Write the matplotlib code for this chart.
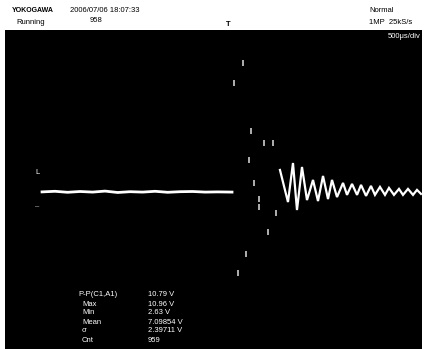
import numpy as np
import matplotlib
matplotlib.use('Agg')
import matplotlib.pyplot as plt

plt.rcParams['font.family'] = ['Liberation Sans', 'DejaVu Sans']

# CH1 trace before the trigger (time in us, volts)
pre_t = [-2056, -1900, -1750, -1600, -1450, -1300, -1150, -1000, -850, -700,
         -550, -400, -250, -100, 50, 222]
pre_v = [7.13, 7.16, 7.11, 7.15, 7.12, 7.17, 7.10, 7.14, 7.12, 7.16,
         7.11, 7.14, 7.15, 7.12, 7.13, 7.12]

# ringing after the event
ring_t = [797, 893, 953, 1001, 1061, 1121, 1193, 1253, 1313, 1373, 1421, 1481,
          1553, 1601, 1661, 1721, 1769, 1829, 1888, 1936, 1996, 2056, 2104,
          2164, 2224, 2272, 2332, 2392, 2440, 2488]
ring_v = [8.23, 6.62, 8.58, 6.22, 8.38, 6.72, 7.73, 6.67, 7.93, 6.77, 7.73, 6.87,
          7.58, 6.98, 7.53, 6.98, 7.48, 6.93, 7.43, 6.98, 7.38, 6.98, 7.33,
          6.98, 7.28, 6.98, 7.28, 6.98, 7.23, 7.03]

# scattered samples of the fast transient
dot_t = [242, 350, 446, 606, 710, 430, 486, 550, 542, 750, 654, 390, 294]
dot_v = [12.61, 13.60, 10.20, 9.60, 9.60, 8.73, 7.56, 6.76, 6.36, 6.06, 5.14, 4.02, 3.05]

meas_names = ['P-P(C1,A1)', 'Max', 'Min', 'Mean', 'σ', 'Cnt']
meas_vals = ['10.79 V', '10.96 V', '2.63 V', '7.09854 V', '2.39711 V', '959']

W, H = 425, 349
fig = plt.figure(figsize=(W / 100, H / 100), dpi=100, facecolor='white')

ax = fig.add_axes([5 / W, 0, 417 / W, 319 / H])
ax.set_facecolor('black')
ax.set_xlim(-2500, 2500)
ax.set_ylim(-0.75, 15.25)
ax.set_xticks([])
ax.set_yticks([])
for s in ax.spines.values():
    s.set_visible(False)

ax.plot(pre_t, pre_v, color='white', lw=2.0, solid_joinstyle='round')
ax.plot(ring_t, ring_v, color='white', lw=1.6, solid_joinstyle='miter')
ax.plot(dot_t, dot_v, ls='none', marker='|', ms=4, mew=1.1, color='#e0e0e0')

# header
def ftext(x, y, s, size=5.5, **kw):
    fig.text(x / W, 1 - y / H, s, va='center', fontsize=size, **kw)

ftext(12, 11, 'YOKOGAWA', size=5, fontweight='bold')
ftext(70, 11, '2006/07/06 18:07:33')
ftext(16, 22, 'Running')
ftext(90, 21, '958')
ftext(369, 11, 'Normal')
ftext(369, 22, '1MP  25kS/s')
ftext(226, 24, 'T', size=5.5, fontweight='bold')
ftext(421, 36, '500μs/div', color='white', ha='right')

# channel markers
ftext(35, 173, 'L', color='white')
ftext(35, 207, '–', color='#bbbbbb')

# measurement readout
rows_y = [295, 304, 313, 322, 331, 340]
for i, (n, v) in enumerate(zip(meas_names, meas_vals)):
    ftext(78 if i == 0 else 82, rows_y[i], n, color='white')
    ftext(148, rows_y[i], v, color='white')

fig.savefig('out.png', dpi=100, facecolor='white')
